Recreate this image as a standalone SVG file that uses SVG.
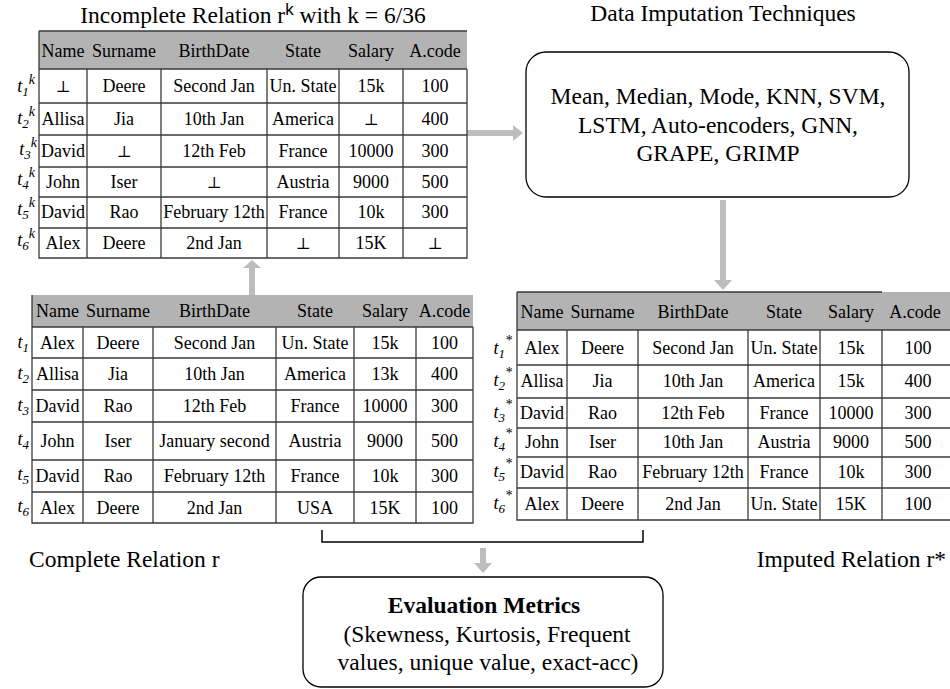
<svg xmlns="http://www.w3.org/2000/svg" width="950" height="689" viewBox="0 0 950 689">
<style>
text{font-family:"Liberation Serif","Times New Roman",serif;fill:#000}
.c{font-size:18px;text-anchor:middle}
.t{font-size:23.5px;text-anchor:middle}
.b{font-size:23.5px;text-anchor:middle}
.lab{font-size:18px;font-style:italic;text-anchor:end}
.cap{font-size:23.5px}
.nl{font-family:"DejaVu Serif","DejaVu Sans",serif;font-size:16px;fill:#000}
.hd{fill:#b3b3b3}
.g{stroke:#3a3a3a;stroke-width:1.3;fill:none}
.box{fill:#fff;stroke:#000;stroke-width:1.3}
.arr{fill:#bdbdbd}
</style>
<rect width="950" height="689" fill="#fff"/>

<g id="connectors">
  <polygon class="arr" points="467,130 513,130 513,125 523,133 513,141 513,136 467,136"/>
  <polygon class="arr" points="720,200 726,200 726,280 732,280 723,290 714,280 720,280"/>
  <polygon class="arr" points="249,295 249,268 243,268 252,260 261,268 255,268 255,295"/>
  <polygon class="arr" points="480,548 486,548 486,563 492,563 483,573 474,563 480,563"/>
  <path class="g" d="M322,530 V542 H643 V530" style="stroke:#000;stroke-width:1.5"/>
</g>

<g id="incomplete-relation">
  <text class="t" x="253" y="23">Incomplete Relation r<tspan font-family="Liberation Sans, Arial, sans-serif" font-size="17" dy="-8">k</tspan><tspan dy="8"> with k = 6/36</tspan></text>
  <rect class="hd" x="39" y="31" width="428" height="38"/>
  <path class="g" d="M39,31 H467 M39,31 V258 H467 V69 M39,69 H467 M39,103 H467 M39,135 H467 M39,167 H467 M39,197 H467 M39,228 H467 M87,69 V258 M161,69 V258 M267,69 V258 M339,69 V258 M403,69 V258"/>
  <g class="c">
    <text x="63" y="57">Name</text><text x="124" y="57">Surname</text><text x="214" y="57">BirthDate</text><text x="303" y="57">State</text><text x="371" y="57">Salary</text><text x="435" y="57">A.code</text>
    <text class="nl" x="63" y="92">⊥</text><text x="124" y="92">Deere</text><text x="214" y="92">Second Jan</text><text x="303" y="92">Un. State</text><text x="371" y="92">15k</text><text x="435" y="92">100</text>
    <text x="63" y="125">Allisa</text><text x="124" y="125">Jia</text><text x="214" y="125">10th Jan</text><text x="303" y="125">America</text><text class="nl" x="371" y="125">⊥</text><text x="435" y="125">400</text>
    <text x="63" y="157">David</text><text class="nl" x="124" y="157">⊥</text><text x="214" y="157">12th Feb</text><text x="303" y="157">France</text><text x="371" y="157">10000</text><text x="435" y="157">300</text>
    <text x="63" y="188">John</text><text x="124" y="188">Iser</text><text class="nl" x="214" y="188">⊥</text><text x="303" y="188">Austria</text><text x="371" y="188">9000</text><text x="435" y="188">500</text>
    <text x="63" y="218">David</text><text x="124" y="218">Rao</text><text x="214" y="218">February 12th</text><text x="303" y="218">France</text><text x="371" y="218">10k</text><text x="435" y="218">300</text>
    <text x="63" y="249">Alex</text><text x="124" y="249">Deere</text><text x="214" y="249">2nd Jan</text><text class="nl" x="303" y="249">⊥</text><text x="371" y="249">15K</text><text class="nl" x="435" y="249">⊥</text>
  </g>
  <g class="lab">
    <text x="35" y="92">t<tspan font-size="13" dy="4">1</tspan><tspan font-size="14" dy="-12">k</tspan></text>
    <text x="35" y="124">t<tspan font-size="13" dy="4">2</tspan><tspan font-size="14" dy="-12">k</tspan></text>
    <text x="37" y="155">t<tspan font-size="13" dy="4">3</tspan><tspan font-size="14" dy="-12">k</tspan></text>
    <text x="35" y="185">t<tspan font-size="13" dy="4">4</tspan><tspan font-size="14" dy="-12">k</tspan></text>
    <text x="35" y="215">t<tspan font-size="13" dy="4">5</tspan><tspan font-size="14" dy="-12">k</tspan></text>
    <text x="35" y="246">t<tspan font-size="13" dy="4">6</tspan><tspan font-size="14" dy="-12">k</tspan></text>
  </g>
</g>

<g id="imputation-techniques">
  <text class="t" x="723" y="21">Data Imputation Techniques</text>
  <rect class="box" x="526" y="52" width="383" height="145" rx="20"/>
  <text class="b" x="718" y="104">Mean, Median, Mode, KNN, SVM,</text>
  <text class="b" x="718" y="133">LSTM, Auto-encoders, GNN,</text>
  <text class="b" x="718" y="161">GRAPE, GRIMP</text>
</g>

<g id="complete-relation">
  <rect class="hd" x="32" y="295" width="441" height="32"/>
  <path class="g" d="M32,295 V523 H473 V327 M32,327 H473 M32,358 H473 M32,390 H473 M32,422 H473 M32,460 H473 M32,492 H473 M83,327 V523 M153,327 V523 M276,327 V523 M354,327 V523 M416,327 V523"/>
  <g class="c">
    <text x="57.5" y="317">Name</text><text x="118" y="317">Surname</text><text x="214.5" y="317">BirthDate</text><text x="315" y="317">State</text><text x="385" y="317">Salary</text><text x="444.5" y="317">A.code</text>
    <text x="57.5" y="349">Alex</text><text x="118" y="349">Deere</text><text x="214.5" y="349">Second Jan</text><text x="315" y="349">Un. State</text><text x="385" y="349">15k</text><text x="444.5" y="349">100</text>
    <text x="57.5" y="380">Allisa</text><text x="118" y="380">Jia</text><text x="214.5" y="380">10th Jan</text><text x="315" y="380">America</text><text x="385" y="380">13k</text><text x="444.5" y="380">400</text>
    <text x="57.5" y="412">David</text><text x="118" y="412">Rao</text><text x="214.5" y="412">12th Feb</text><text x="315" y="412">France</text><text x="385" y="412">10000</text><text x="444.5" y="412">300</text>
    <text x="57.5" y="447">John</text><text x="118" y="447">Iser</text><text x="214.5" y="447">January second</text><text x="315" y="447">Austria</text><text x="385" y="447">9000</text><text x="444.5" y="447">500</text>
    <text x="57.5" y="482">David</text><text x="118" y="482">Rao</text><text x="214.5" y="482">February 12th</text><text x="315" y="482">France</text><text x="385" y="482">10k</text><text x="444.5" y="482">300</text>
    <text x="57.5" y="514">Alex</text><text x="118" y="514">Deere</text><text x="214.5" y="514">2nd Jan</text><text x="315" y="514">USA</text><text x="385" y="514">15K</text><text x="444.5" y="514">100</text>
  </g>
  <g class="lab">
    <text x="29" y="348">t<tspan font-size="13" dy="4">1</tspan></text>
    <text x="29" y="379">t<tspan font-size="13" dy="4">2</tspan></text>
    <text x="29" y="411">t<tspan font-size="13" dy="4">3</tspan></text>
    <text x="29" y="445">t<tspan font-size="13" dy="4">4</tspan></text>
    <text x="29" y="480">t<tspan font-size="13" dy="4">5</tspan></text>
    <text x="29" y="512">t<tspan font-size="13" dy="4">6</tspan></text>
  </g>
  <text class="cap" x="29" y="567">Complete Relation r</text>
</g>

<g id="imputed-relation">
  <rect class="hd" x="517" y="292" width="440" height="38"/>
  <path class="g" d="M517,292 H882 M517,292 V520 H960 M517,330 H960 M517,365 H960 M517,398 H960 M517,428 H960 M517,457 H960 M517,488 H960 M567,330 V520 M638,330 V520 M748,330 V520 M820,330 V520 M882,330 V520"/>
  <g class="c">
    <text x="542" y="318">Name</text><text x="602.5" y="318">Surname</text><text x="693" y="318">BirthDate</text><text x="784" y="318">State</text><text x="851" y="318">Salary</text><text x="915" y="318">A.code</text>
    <text x="542" y="354">Alex</text><text x="602.5" y="354">Deere</text><text x="693" y="354">Second Jan</text><text x="784" y="354">Un. State</text><text x="851" y="354">15k</text><text x="918" y="354">100</text>
    <text x="542" y="387">Allisa</text><text x="602.5" y="387">Jia</text><text x="693" y="387">10th Jan</text><text x="784" y="387">America</text><text x="851" y="387">15k</text><text x="918" y="387">400</text>
    <text x="542" y="419">David</text><text x="602.5" y="419">Rao</text><text x="693" y="419">12th Feb</text><text x="784" y="419">France</text><text x="851" y="419">10000</text><text x="918" y="419">300</text>
    <text x="542" y="448">John</text><text x="602.5" y="448">Iser</text><text x="693" y="448">10th Jan</text><text x="784" y="448">Austria</text><text x="851" y="448">9000</text><text x="918" y="448">500</text>
    <text x="542" y="478">David</text><text x="602.5" y="478">Rao</text><text x="693" y="478">February 12th</text><text x="784" y="478">France</text><text x="851" y="478">10k</text><text x="918" y="478">300</text>
    <text x="542" y="510">Alex</text><text x="602.5" y="510">Deere</text><text x="693" y="510">2nd Jan</text><text x="784" y="510">Un. State</text><text x="851" y="510">15K</text><text x="918" y="510">100</text>
  </g>
  <g class="lab">
    <text x="512" y="354">t<tspan font-size="13" dy="4">1</tspan><tspan font-size="14" dy="-13">*</tspan></text>
    <text x="512" y="386">t<tspan font-size="13" dy="4">2</tspan><tspan font-size="14" dy="-13">*</tspan></text>
    <text x="512" y="418">t<tspan font-size="13" dy="4">3</tspan><tspan font-size="14" dy="-13">*</tspan></text>
    <text x="512" y="447">t<tspan font-size="13" dy="4">4</tspan><tspan font-size="14" dy="-13">*</tspan></text>
    <text x="512" y="477">t<tspan font-size="13" dy="4">5</tspan><tspan font-size="14" dy="-13">*</tspan></text>
    <text x="512" y="509">t<tspan font-size="13" dy="4">6</tspan><tspan font-size="14" dy="-13">*</tspan></text>
  </g>
  <text class="cap" x="946" y="567" style="text-anchor:end">Imputed Relation r*</text>
</g>

<g id="evaluation-metrics">
  <rect class="box" x="303" y="577" width="360" height="110" rx="18"/>
  <text class="b" x="484" y="613" style="font-weight:bold">Evaluation Metrics</text>
  <text class="b" x="487" y="642">(Skewness, Kurtosis, Frequent</text>
  <text class="b" x="488" y="670">values, unique value, exact-acc)</text>
</g>
</svg>
